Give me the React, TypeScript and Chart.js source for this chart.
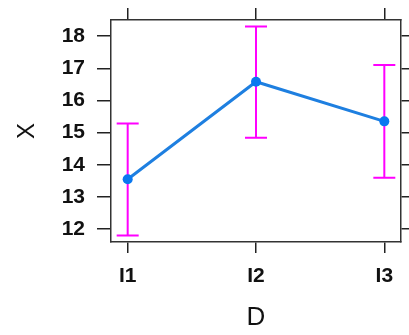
import React, { useEffect, useRef } from "react";
import { Chart, registerables } from "chart.js";

Chart.register(...registerables);

const categories = ["I1", "I2", "I3"];
const means = [13.55, 16.58, 15.35];
const lower = [11.8, 14.84, 13.6];
const upper = [15.28, 18.3, 17.1];
const yTicks = [12, 13, 14, 15, 16, 17, 18];

const FONT = "'Liberation Sans', Arial, sans-serif";

const errorBars = {
  id: "errorBars",
  beforeDatasetsDraw(chart: any) {
    const { ctx } = chart;
    const xs = chart.scales.x;
    const ys = chart.scales.y;
    ctx.save();
    ctx.strokeStyle = "#ff00ff";
    ctx.lineWidth = 2;
    categories.forEach((_, i) => {
      const x = xs.getPixelForValue(i + 1);
      const y1 = ys.getPixelForValue(lower[i]);
      const y2 = ys.getPixelForValue(upper[i]);
      const hw = 11;
      ctx.beginPath();
      ctx.moveTo(x, y1);
      ctx.lineTo(x, y2);
      ctx.moveTo(x - hw, y1);
      ctx.lineTo(x + hw, y1);
      ctx.moveTo(x - hw, y2);
      ctx.lineTo(x + hw, y2);
      ctx.stroke();
    });
    ctx.restore();
  },
};

export default function App() {
  const ref = useRef<HTMLCanvasElement | null>(null);
  useEffect(() => {
    if (!ref.current) return;
    const gridCommon = {
      drawOnChartArea: false,
      color: "#222",
      tickColor: "#222",
      lineWidth: 1.5,
    };
    const borderCommon = { display: true, color: "#333", width: 1.5 };
    const xTickSet = (s: any) => {
      s.ticks = categories.map((_, i) => ({ value: i + 1 }));
    };
    const yTickSet = (s: any) => {
      s.ticks = yTicks.map((v) => ({ value: v }));
    };
    const fixW = (w: number) => (s: any) => {
      s.width = w;
      s.paddingTop = 0;
      s.paddingBottom = 0;
    };
    const fixH = (h: number) => (s: any) => {
      s.height = h;
      s.paddingLeft = 0;
      s.paddingRight = 0;
    };
    const chart = new Chart(ref.current, {
      type: "line",
      data: {
        datasets: [
          {
            data: means.map((m, i) => ({ x: i + 1, y: m })),
            borderColor: "#1e7fe0",
            backgroundColor: "#1e7fe0",
            borderWidth: 3,
            pointRadius: 5,
            pointBackgroundColor: "#0a78f0",
            pointBorderWidth: 0,
            tension: 0,
          },
        ],
      },
      plugins: [errorBars],
      options: {
        animation: false,
        responsive: true,
        maintainAspectRatio: false,
        layout: { padding: 0, autoPadding: false },
        plugins: { legend: { display: false }, tooltip: { enabled: false } },
        scales: {
          x: {
            type: "linear",
            position: "bottom",
            min: 0.87,
            max: 3.13,
            afterBuildTicks: xTickSet,
            afterFit: fixH(93),
            grid: { ...gridCommon, tickLength: 11 },
            border: borderCommon,
            ticks: {
              color: "#111",
              padding: 11,
              font: { family: FONT, size: 21, weight: "bold" },
              callback: (v: any) => categories[Math.round(v) - 1] ?? "",
            },
            title: {
              display: true,
              text: "D",
              color: "#111",
              font: { family: FONT, size: 26 },
              padding: { top: 0, bottom: 2 },
            },
          },
          x2: {
            type: "linear",
            position: "top",
            min: 0.87,
            max: 3.13,
            afterBuildTicks: xTickSet,
            afterFit: fixH(20),
            grid: { ...gridCommon, tickLength: 12 },
            border: borderCommon,
            ticks: { display: false },
          },
          y: {
            type: "linear",
            position: "left",
            min: 11.6,
            max: 18.5,
            afterBuildTicks: yTickSet,
            afterFit: fixW(111),
            grid: { ...gridCommon, tickLength: 14 },
            border: borderCommon,
            ticks: {
              color: "#111",
              padding: 12,
              font: { family: FONT, size: 21, weight: "bold" },
            },
            title: {
              display: true,
              text: "X",
              color: "#111",
              font: { family: FONT, size: 24 },
              padding: { top: 13, bottom: 0 },
            },
          },
          y2: {
            type: "linear",
            position: "right",
            min: 11.6,
            max: 18.5,
            afterBuildTicks: yTickSet,
            afterFit: fixW(8),
            grid: { ...gridCommon, tickLength: 10 },
            border: borderCommon,
            ticks: { display: false },
          },
        },
      },
    });
    return () => chart.destroy();
  }, []);
  return (
    <div style={{ position: "absolute", left: 0, top: 0, width: 409, height: 335, background: "#fff" }}>
      <canvas ref={ref} />
    </div>
  );
}
